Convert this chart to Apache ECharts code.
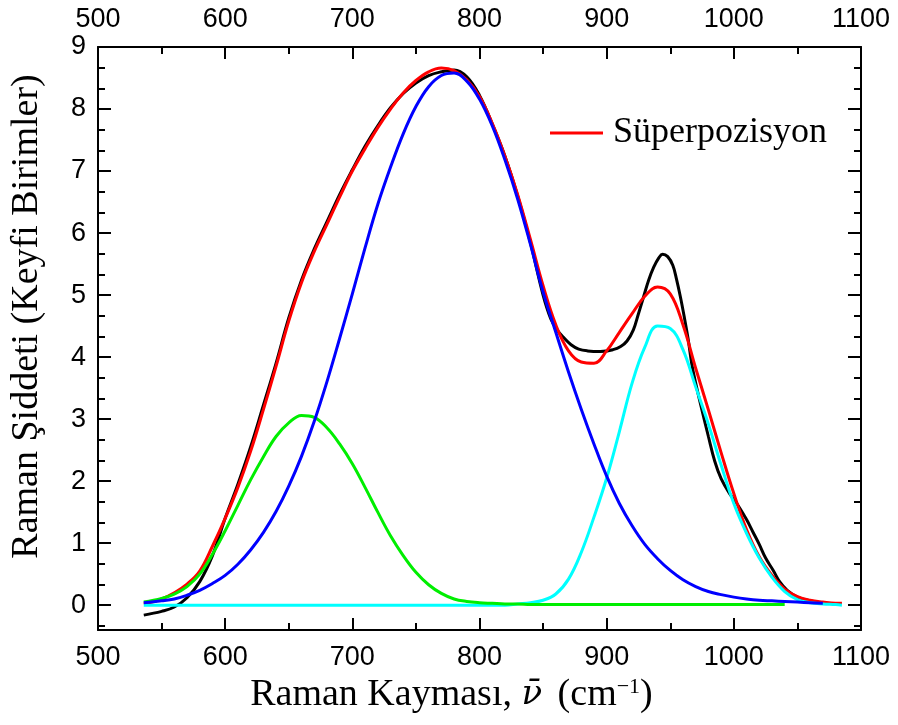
<!DOCTYPE html>
<html><head><meta charset="utf-8">
<script src="https://cdn.jsdelivr.net/npm/echarts@6/dist/echarts.min.js"></script>
<style>html,body{margin:0;padding:0;background:#fff}#c{width:898px;height:725px}</style>
</head><body><div id="c"></div>
<script>
// ---- data ----
const xs = [536,550,560,570,580,590,600,610,620,630,640,650,660,670,680,690,700,710,720,730,740,750,760,770,780,790,800,810,820,830,840,850,860,870,880,890,900,910,920,930,940,950,960,970,980,990,1000,1010,1020,1030,1040,1050,1060,1070,1080,1085];
const green = [0.05,0.11,0.18,0.30,0.50,0.82,1.20,1.61,2.02,2.39,2.72,2.94,3.06,3.03,2.86,2.60,2.28,1.90,1.50,1.12,0.80,0.53,0.33,0.19,0.10,0.06,0.04,0.03,0.02,0.02,0.01,
  0.01,0.01,0.01,0.01,0.01,0.01,0.01,0.01,0.01,0.01,0.01,0.01,0.01,0.01,0.01,0.01,0.01,0.01,0.01,0.01,null,null,null,null,null];
const blue = [0.04,0.07,0.10,0.16,0.24,0.35,0.48,0.66,0.89,1.17,1.51,1.92,2.40,2.96,3.60,4.30,5.02,5.76,6.46,7.06,7.60,8.04,8.36,8.54,8.58,8.45,8.16,7.73,7.18,6.55,5.82,5.05,4.40,3.76,3.16,2.60,2.08,1.64,1.28,0.98,0.75,0.56,0.41,0.30,0.22,0.17,0.13,0.10,0.08,0.07,0.06,0.05,0.04,0.03,null,null];
const cyan = [0,0,0,0,0,0,0,0,0,0,0,0,0,0,0,0,0,0,0,0,0,0,0,0,0,0,0,0,0,
  0.02,0.04,0.08,0.18,0.42,0.85,1.42,2.05,2.80,3.58,4.16,4.50,4.46,4.12,3.52,2.92,2.26,1.64,1.16,0.76,0.45,0.22,0.09,0.04,0.02,0.01,0.00];
const superpos = [0.02,0.10,0.20,0.34,0.55,0.95,1.40,1.90,2.48,3.15,3.85,4.58,5.20,5.70,6.14,6.58,7.00,7.36,7.70,8.00,8.26,8.46,8.60,8.66,8.62,8.47,8.20,7.77,7.24,6.62,5.90,5.15,4.52,4.10,3.92,3.90,4.10,4.40,4.70,4.98,5.13,5.02,4.52,3.82,3.15,2.46,1.80,1.22,0.78,0.48,0.26,0.14,0.08,0.05,0.03,0.03];
const xsExp = [536,550,560,570,580,590,600,610,620,630,640,650,660,670,680,690,700,710,720,730,740,750,760,770,780,790,800,810,820,830,840,850,856,861,866,872,878,885,895,905,911,916,921,925,929,933,937,941,944,948,952,955,958,961,964,967,970,975,980,985,990,997,1003,1010,1015,1020,1025,1031,1036,1042,1050,1058,1068];
const measured = [-0.16,-0.10,-0.03,0.12,0.38,0.80,1.40,1.95,2.55,3.22,3.90,4.63,5.24,5.74,6.18,6.62,7.02,7.40,7.73,8.02,8.25,8.42,8.54,8.60,8.63,8.52,8.22,7.76,7.24,6.60,5.85,5.00,4.62,4.44,4.32,4.20,4.13,4.10,4.09,4.12,4.17,4.26,4.44,4.70,4.97,5.24,5.45,5.60,5.66,5.62,5.48,5.25,4.97,4.65,4.30,3.88,3.58,3.14,2.72,2.32,2.04,1.79,1.62,1.38,1.18,0.98,0.76,0.56,0.38,0.24,0.13,0.08,0.04];
const xTicks = [500,600,700,800,900,1000,1100];
const yTicks = [0,1,2,3,4,5,6,7,8,9];
const legendName = 'Süperpozisyon';
const xTitle = 'Raman Kayması, {i|ν̄} (cm{sup|−1})';
const yTitle = 'Raman Şiddeti (Keyfi Birimler)';

// ---- chart ----
const yMinor = [];
for (let k = -1; k <= 27; k++) { if (k % 3 !== 0) yMinor.push(k / 3); }
const pair = (a, b) => a.map((x, i) => [x, b[i]]);
const BLK = '#000';
const tickFont = {fontFamily: 'Liberation Sans', fontSize: 27, color: BLK};
const serif = 'Liberation Serif';

function xAx(pos, withName) {
  const a = {
    type: 'value', position: pos, min: 500, max: 1100, interval: 100,
    axisLine: {show: true, onZero: false, lineStyle: {color: BLK, width: 2}},
    axisTick: {show: true, inside: true, length: 12, lineStyle: {color: BLK, width: 2}},
    minorTick: {show: true, splitNumber: 2, length: 7, lineStyle: {color: BLK, width: 2}},
    axisLabel: Object.assign({margin: 14, customValues: xTicks, formatter: v => String(v)}, tickFont),
    splitLine: {show: false}
  };
  if (withName) {
    a.name = xTitle; a.nameLocation = 'middle'; a.nameGap = 44;
    a.nameTextStyle = {fontFamily: serif, fontSize: 38, color: BLK, padding: [0, 56, 0, 0],
      rich: {i: {fontFamily: 'DejaVu Serif', fontStyle: 'italic', fontSize: 34, color: BLK, padding: [0, 6, 0, 0]},
             sup: {fontFamily: serif, fontSize: 22, color: BLK, verticalAlign: 'bottom', padding: [0, 0, 17, 0]}}};
  }
  return a;
}
function yAx(pos, major, showLabel, withName) {
  const a = {
    type: 'value', position: pos, min: -0.4, max: 9, interval: 1,
    axisLine: {show: major, onZero: false, lineStyle: {color: BLK, width: 2}},
    axisTick: {show: true, inside: true, length: major ? 13 : 7, customValues: major ? yTicks : yMinor, lineStyle: {color: BLK, width: 2}},
    axisLabel: Object.assign({show: showLabel, margin: 12, customValues: yTicks}, tickFont),
    splitLine: {show: false}
  };
  if (withName) {
    a.name = yTitle; a.nameLocation = 'middle'; a.nameGap = 52; a.nameRotate = 90;
    a.nameTextStyle = {fontFamily: serif, fontSize: 38, color: BLK, padding: [0, 0, 0, 44]};
  }
  return a;
}
const lw = 3;
const mk = (name, data, color, z) => ({
  name, type: 'line', data, showSymbol: false, smooth: 0.4, z,
  lineStyle: {color, width: lw}, itemStyle: {color}, xAxisIndex: 0, yAxisIndex: 0, animation: false
});

const chart = echarts.init(document.getElementById('c'), null, {renderer: 'canvas'});
chart.setOption({
  animation: false,
  backgroundColor: '#fff',
  grid: {left: 97, right: 37, top: 47, bottom: 95, containLabel: false},
  legend: {data: [legendName], left: 550, top: 115, padding: 0, icon: 'rect', itemWidth: 53, itemHeight: 3,
    textStyle: {fontFamily: serif, fontSize: 36, color: BLK, padding: [0, 0, 0, 5]}},
  xAxis: [xAx('bottom', true), xAx('top', false)],
  yAxis: [yAx('left', true, true, true), yAx('left', false, false, false), yAx('right', true, false, false), yAx('right', false, false, false)],
  series: [
    mk('Deney', pair(xsExp, measured), '#000000', 2),
    mk(legendName, pair(xs, superpos), '#ff0000', 3),
    mk('Pik 3', pair(xs, cyan), '#00ffff', 4),
    mk('Pik 1', pair(xs, green), '#00ee00', 5),
    mk('Pik 2', pair(xs, blue), '#0000ff', 6)
  ]
});
</script></body></html>
